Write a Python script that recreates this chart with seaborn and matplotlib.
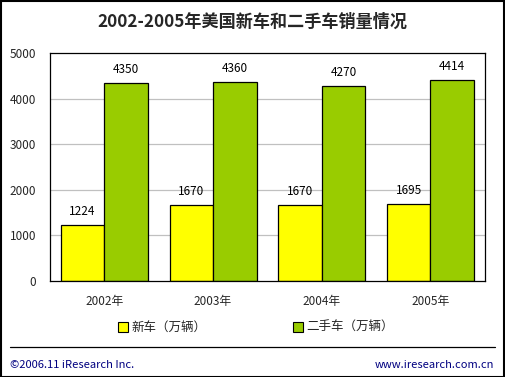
import matplotlib
matplotlib.use("Agg")
import matplotlib.pyplot as plt
from matplotlib.lines import Line2D
from matplotlib.patches import Rectangle
import pandas as pd
import seaborn as sns

YEARS = ["2002年", "2003年", "2004年", "2005年"]
NEW_CARS = [1224, 1670, 1670, 1695]
USED_CARS = [4350, 4360, 4270, 4414]
SERIES = ["新车（万辆）", "二手车（万辆）"]
COLORS = ["#FFFF00", "#99CC00"]
Y_TICKS = [0, 1000, 2000, 3000, 4000, 5000]

FONT = ["Noto Sans CJK SC", "DejaVu Sans"]


def build_frame() -> pd.DataFrame:
    rows = []
    for year, n, u in zip(YEARS, NEW_CARS, USED_CARS):
        rows.append({"year": year, "series": SERIES[0], "value": n})
        rows.append({"year": year, "series": SERIES[1], "value": u})
    return pd.DataFrame(rows)


def main() -> None:
    sns.set_theme(style="white")
    plt.rcParams["font.family"] = FONT
    plt.rcParams["axes.unicode_minus"] = False

    df = build_frame()
    fig = plt.figure(figsize=(5.05, 3.77), dpi=100)
    fig.patch.set_facecolor("white")
    ax = fig.add_axes([0.099, 0.2546, 0.861, 0.605])

    sns.barplot(
        data=df, x="year", y="value", hue="series", hue_order=SERIES,
        palette=COLORS, edgecolor="black", linewidth=0.9, width=0.8,
        gap=0, ax=ax, legend=False, errorbar=None, saturation=1,
    )

    for container in ax.containers:
        ax.bar_label(container, fmt="%d", padding=5, fontsize=8.5, color="black")

    ax.set_ylim(0, 5000)
    ax.set_yticks(Y_TICKS)
    ax.set_xlim(-0.5, 3.5)
    ax.set_xlabel("")
    ax.set_ylabel("")
    ax.tick_params(axis="y", length=0, pad=10, labelsize=8.5)
    ax.tick_params(axis="x", length=0, pad=10, labelsize=8.5)
    for y in Y_TICKS[1:-1]:
        ax.axhline(y, color="#C0C0C0", linewidth=0.9, zorder=0)
    for spine in ax.spines.values():
        spine.set_color("black")
        spine.set_linewidth(0.9)

    fig.text(0.5, 0.942, "2002-2005年美国新车和二手车销量情况", ha="center", va="center",
             fontsize=12.3, fontweight="bold")

    handles = [Rectangle((0, 0), 1, 1, facecolor=c, edgecolor="black", linewidth=0.8) for c in COLORS]
    fig.legend(handles, SERIES, loc="center", bbox_to_anchor=(0.507, 0.131), ncol=2,
               frameon=False, fontsize=9, handlelength=0.8, handleheight=0.8,
               handletextpad=0.3, columnspacing=6.9)

    fig.add_artist(Line2D([10 / 505, 495 / 505], [1 - 347 / 377] * 2, color="black",
                          linewidth=0.9, transform=fig.transFigure))
    fig.text(10 / 505, 1 - 365 / 377, "©2006.11 iResearch Inc.", ha="left", va="center",
             fontsize=8, color="#000080")
    fig.text(494 / 505, 1 - 365 / 377, "www.iresearch.com.cn", ha="right", va="center",
             fontsize=8, color="#000080")

    fig.add_artist(Rectangle((0.001, 0.001), 0.997, 0.997, transform=fig.transFigure,
                             fill=False, edgecolor="black", linewidth=1.5))

    fig.savefig("out.png", dpi=100)
    plt.close(fig)


if __name__ == "__main__":
    main()
